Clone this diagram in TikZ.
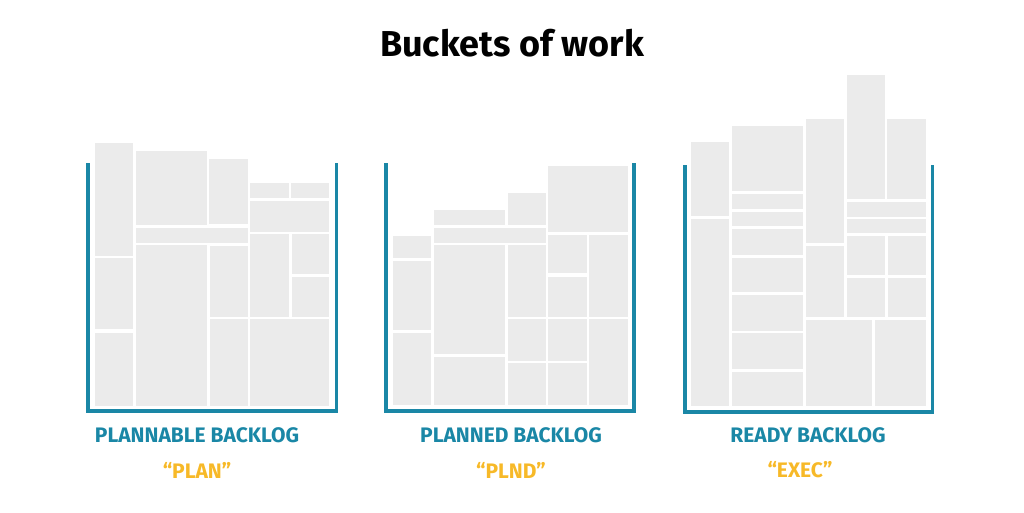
\documentclass[tikz,border=0pt]{standalone}
\usepackage{fontspec}
\setmainfont{Fira Sans}
\newfontfamily\condfont{Fira Sans}
\usetikzlibrary{positioning}
\definecolor{bucketblue}{HTML}{1A87A6}
\definecolor{tagyellow}{HTML}{F7B928}
\definecolor{blockgrey}{HTML}{EBEBEB}

\begin{document}
\begin{tikzpicture}[x=1pt,y=-1pt,node distance=35pt,on grid,
  wall/.style={draw=bucketblue,line width=3.5pt},
  blk/.style={fill=blockgrey},
  bucketname/.style={text=bucketblue,font=\condfont\bfseries\fontsize{21}{21}\selectfont},
  statetag/.style={text=tagyellow,font=\condfont\bfseries\fontsize{21}{21}\selectfont}]
  \useasboundingbox (0,0) rectangle (1024,512);
  \node[font=\bfseries\fontsize{36}{36}\selectfont] (title) at (512,43) {Buckets of work};

  % plannable backlog
  \foreach \xa/\ya/\xb/\yb in {95/143/133/256, 95/258/133/329, 95/333/133/406,
      136/151/207/225, 209/159/248/224, 136/228/248/243, 136/245/207/406,
      210/246/248/317, 210/319/248/406, 250/183/289/198, 291/183/329/198,
      250/201/329/232, 250/234/289/317, 292/234/329/274, 292/277/329/317,
      250/319/329/406}
    \path[blk] (\xa,\ya) rectangle (\xb,\yb);
  \draw[wall] (88,163) -- (88,411) -- (336.5,411) -- (336.5,163);

  % planned backlog
  \foreach \xa/\ya/\xb/\yb in {393/236/431/258, 393/261/431/330, 393/333/431/405,
      434/210/505/225, 508/193/546/225, 434/228/546/243, 434/245/505/354,
      434/357/505/405, 508/245/546/317, 508/319/546/361, 508/363/546/405,
      548/166/628/232, 548/235/587/273, 548/277/587/317, 548/319/587/361,
      548/363/587/405, 589/235/628/317, 589/319/628/405}
    \path[blk] (\xa,\ya) rectangle (\xb,\yb);
  \draw[wall] (386,163) -- (386,411) -- (634,411) -- (634,163);

  % ready backlog
  \foreach \xa/\ya/\xb/\yb in {691/142/729/216, 691/219/729/406,
      732/126/803/191, 732/194/803/209, 732/212/803/226, 732/229/803/255,
      732/258/803/292, 732/295/803/331, 732/333/803/369, 732/372/803/406,
      806/119/844/243, 806/246/844/317, 847/75/885/199, 887/119/926/199,
      847/202/926/217, 847/219/926/233, 847/236/885/275, 888/236/926/275,
      847/278/885/317, 888/278/926/317, 806/320/872/406, 875/320/926/406}
    \path[blk] (\xa,\ya) rectangle (\xb,\yb);
  \draw[wall] (685,165) -- (685,412) -- (932.5,412) -- (932.5,165);

  \node[bucketname] (planlbl) at (197,435) {PLANNABLE BACKLOG};
  \node[bucketname] (plndlbl) at (511,435) {PLANNED BACKLOG};
  \node[bucketname] (execlbl) at (808,435) {READY BACKLOG};
  \node[statetag] (plantag) [below=of planlbl] {“PLAN”};
  \node[statetag] (plndtag) [below=of plndlbl] {“PLND”};
  \node[statetag] (exectag) [below=of execlbl,xshift=-8pt] {“EXEC”};
\end{tikzpicture}
\end{document}
